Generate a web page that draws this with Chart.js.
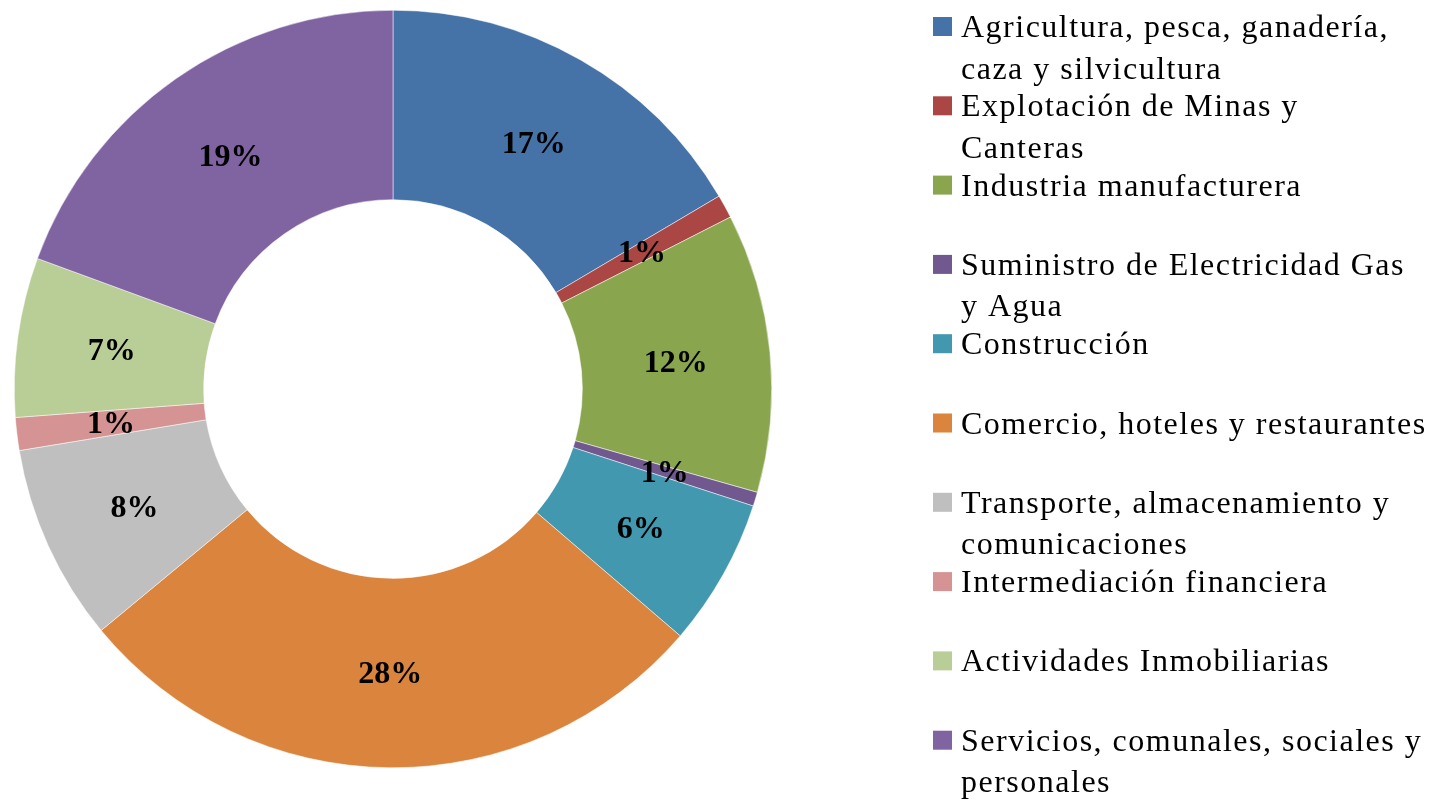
<!DOCTYPE html>
<html>
<head>
<meta charset="utf-8">
<script src="https://cdn.jsdelivr.net/npm/chart.js@4"></script>
<style>
    body { margin: 0; background: #ffffff; }
    #chart-container { width: 1443px; height: 802px; position: relative; }
</style>
</head>
<body>
<script>
let categories = [
    ["Agricultura, pesca, ganadería,", "caza y silvicultura"],
    ["Explotación de Minas y", "Canteras"],
    ["Industria manufacturera"],
    ["Suministro de Electricidad Gas", "y Agua"],
    ["Construcción"],
    ["Comercio, hoteles y restaurantes"],
    ["Transporte, almacenamiento y", "comunicaciones"],
    ["Intermediación financiera"],
    ["Actividades Inmobiliarias"],
    ["Servicios, comunales, sociales y", "personales"]
];
let shares = [16.5, 1.0, 11.9, 0.6, 6.3, 27.7, 8.4, 1.4, 6.8, 19.4];
let sliceColors = ["#4572A7", "#AA4643", "#89A54E", "#71588F", "#4198AF",
    "#DB843D", "#BFBFBF", "#D59393", "#B9CD96", "#8064A2"];


// percent labels in the middle of each slice
let sliceLabels = {
    id: "sliceLabels",
    afterDatasetsDraw(chart) {
        let ctx = chart.ctx;
        let meta = chart.getDatasetMeta(0);
        let values = chart.data.datasets[0].data;
        let total = values.reduce((a, b) => a + b, 0);
        ctx.save();
        ctx.font = "bold 32px 'Liberation Serif'";
        ctx.fillStyle = "#000000";
        ctx.textAlign = "center";
        ctx.textBaseline = "middle";
        meta.data.forEach((arc, i) => {
            let pos = arc.tooltipPosition();
            ctx.fillText(Math.round(values[i] / total * 100) + "%", pos.x, pos.y + 2);
        });
        ctx.restore();
    }
};

// legend on the right, drawn by hand so it can sit where the original has it
let sideLegend = {
    id: "sideLegend",
    afterDraw(chart) {
        let ctx = chart.ctx;
        let colors = chart.data.datasets[0].backgroundColor;
        ctx.save();
        ctx.font = "32px 'Liberation Serif'";
        ctx.letterSpacing = "1.5px";
        ctx.fillStyle = "#000000";
        ctx.textAlign = "left";
        ctx.textBaseline = "alphabetic";
        chart.data.labels.forEach((lines, i) => {
            let baseY = 37 + i * 79.3;
            ctx.fillStyle = colors[i];
            ctx.fillRect(933, baseY - 20, 19, 19);
            ctx.fillStyle = "#000000";
            lines.forEach((line, j) => {
                ctx.fillText(line, 961, baseY + j * 41.5);
            });
        });
        ctx.restore();
    }
};


function drawChart() {

    let divGeneralContainer = document.createElement("div");
    divGeneralContainer.id = "chart-container";
    let graphic = document.createElement("canvas");
    graphic.id = "chart-canvas";
    divGeneralContainer.appendChild(graphic);
    document.body.appendChild(divGeneralContainer);

    new Chart(graphic.getContext("2d"), {
        type: "doughnut",
        data: {
            labels: categories,
            datasets: [{
                data: shares,
                backgroundColor: sliceColors,
                borderColor: "#ffffff",
                borderWidth: 0.5
            }]
        },
        options: {
            responsive: true,
            maintainAspectRatio: false,
            animation: false,
            cutout: "50%",
            layout: {
                padding: { left: 0, right: 657, top: 10, bottom: 34 }
            },
            plugins: {
                legend: { display: false },
                tooltip: { enabled: false }
            }
        },
        plugins: [sliceLabels, sideLegend]
    });
}
drawChart();
</script>
</body>
</html>
